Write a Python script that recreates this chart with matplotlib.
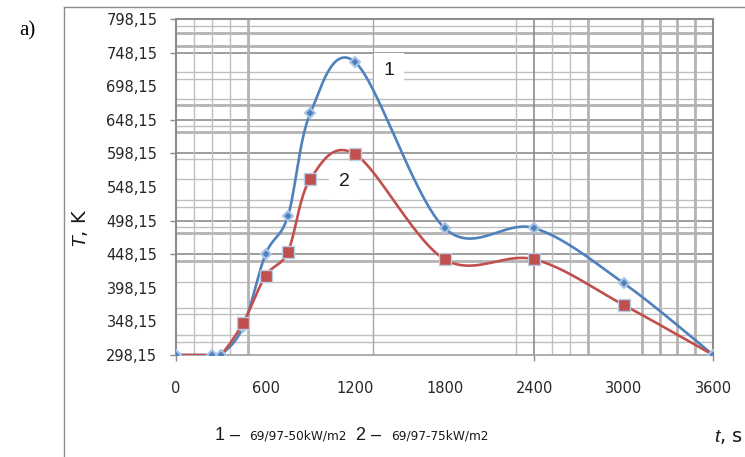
import matplotlib
matplotlib.use("Agg")
import matplotlib.pyplot as plt
from matplotlib.lines import Line2D
from matplotlib.ticker import FixedLocator
import numpy as np

plt.rcParams['mathtext.fontset'] = 'custom'
plt.rcParams['mathtext.rm'] = 'Liberation Sans'
plt.rcParams['mathtext.it'] = 'Liberation Sans:italic'

# ── Data ──────────────────────────────────────────────────────────────────────
t_sec  = [0, 240, 300, 450, 600, 750, 900, 1200, 1800, 2400, 3000, 3600]
temp_1 = [298.15, 298.15, 298.15, 340, 448.15, 505, 658, 734, 487, 487, 405, 298.15]
temp_2 = [298.15, 298.15, 298.15, 346, 416, 452, 560, 597, 440.5, 440.5, 372.5, 298.15]

y_ticks = [298.15 + 50 * i for i in range(11)]
y_marked = [298.15, 448.15, 498.15, 598.15, 648.15, 748.15, 798.15]
x_ticks = [0, 600, 1200, 1800, 2400, 3000, 3600]
x_marked = [0, 2400, 3600]

BLUE = '#4f81bd'
RED  = '#c0504d'


def excel_smooth(x, y, n=40):
    """Bezier smoothing the way spreadsheet 'smoothed line' charts do it."""
    x = np.asarray(x, float)
    y = np.asarray(y, float)
    px = np.concatenate([[x[0]], x, [x[-1]]])
    py = np.concatenate([[y[0]], y, [y[-1]]])
    xs, ys = [], []
    s = np.linspace(0, 1, n)
    for i in range(1, len(px) - 2):
        x0, x1, x2, x3 = px[i - 1], px[i], px[i + 1], px[i + 2]
        y0, y1, y2, y3 = py[i - 1], py[i], py[i + 1], py[i + 2]
        cx1, cy1 = x1 + (x2 - x0) / 6, y1 + (y2 - y0) / 6
        cx2, cy2 = x2 - (x3 - x1) / 6, y2 - (y3 - y1) / 6
        b0, b1, b2, b3 = (1 - s) ** 3, 3 * (1 - s) ** 2 * s, 3 * (1 - s) * s ** 2, s ** 3
        xs.append(b0 * x1 + b1 * cx1 + b2 * cx2 + b3 * x2)
        ys.append(b0 * y1 + b1 * cy1 + b2 * cy2 + b3 * y2)
    return np.concatenate(xs), np.concatenate(ys)


# ── Figure ────────────────────────────────────────────────────────────────────
fig = plt.figure(figsize=(7.45, 4.57), dpi=100)
W, H = 745, 457
ax = fig.add_axes([176 / W, 1 - 355 / H, (713.3 - 176) / W, (355 - 19) / H])
ax.set_xlim(0, 3600)
ax.set_ylim(298.15, 798.15)

# irregular grid
DARK  = dict(color='#8c8c8c', lw=1.2)
THIN  = dict(color='#bfbfbf', lw=1.0)
THICK = dict(color='#b3b3b3', lw=2.0)
MID   = dict(color='#a6a6a6', lw=1.0)

h_grid = [(788.2, THIN), (777.8, THICK), (758.4, THICK), (748.15, DARK),
          (719.2, THIN), (709.3, THIN), (679.6, THIN), (669.6, THICK),
          (648.15, DARK), (639.4, THIN), (629.9, THICK), (598.15, DARK),
          (590.2, THIN), (559.6, THIN), (528.8, THIN), (519.0, THIN),
          (498.15, DARK), (489.0, THIN), (479.5, THICK), (448.15, DARK),
          (438.5, THICK), (407.2, THIN), (367.6, THIN), (358.7, THIN),
          (327.9, THIN), (317.9, THIN)]
v_grid = [(120, THIN), (240, THIN), (360, THIN), (480, THICK), (1320, MID),
          (2280, THIN), (2400, DARK), (2520, THIN), (2640, THIN),
          (2760, THICK), (3120, THICK), (3240, THICK), (3360, THICK),
          (3480, THICK)]
for v, st in h_grid:
    ax.axhline(v, zorder=1, **st)
for v, st in v_grid:
    ax.axvline(v, zorder=1, **st)

for sp in ax.spines.values():
    sp.set_color('#8c8c8c')
    sp.set_linewidth(1.5)
ax.spines['bottom'].set_color('#a0a0a0')
ax.spines['bottom'].set_linewidth(1.2)

# curves
sx1, sy1 = excel_smooth(t_sec, temp_1)
sx2, sy2 = excel_smooth(t_sec, temp_2)
ax.plot(sx1, sy1, color=BLUE, lw=1.9, zorder=3, solid_capstyle='round')
ax.plot(sx2, sy2, color=RED, lw=1.9, zorder=4, solid_capstyle='round')

blue_mk = dict(ls='none', marker='D', ms=5.5, mfc=BLUE, mec='#a9c4e6', mew=1.5)
ax.plot(t_sec, temp_1, markevery=[3], zorder=4.5, **blue_mk)
ax.plot(t_sec, temp_2, ls='none', marker='s', ms=8, mfc=RED, mec='#b9cde5',
        mew=1.0, markevery=list(range(3, 11)), zorder=5)
ax.plot(t_sec, temp_1, markevery=[i for i in range(len(t_sec)) if i != 3],
        zorder=6, **blue_mk)

# curve numbers
ax.text(1427, 721, '1', fontsize=14, family='Liberation Sans', color='#1a1a1a',
        ha='center', va='center', zorder=2.5,
        bbox=dict(boxstyle='square,pad=0.5', fc='white', ec='none'))
ax.text(1126, 556, '2', fontsize=14, family='Liberation Sans', color='#1a1a1a',
        ha='center', va='center', zorder=2.5,
        bbox=dict(boxstyle='square,pad=0.5', fc='white', ec='none'))

# ticks
ax.set_yticks(y_ticks)
ax.set_yticklabels([f'{v:.2f}'.replace('.', ',') for v in y_ticks])
ax.set_xticks(x_ticks)
ax.set_xticklabels([str(v) for v in x_ticks])
ax.yaxis.set_minor_locator(FixedLocator(y_marked))
ax.xaxis.set_minor_locator(FixedLocator(x_marked))
ax.xaxis.remove_overlapping_locs = False
ax.yaxis.remove_overlapping_locs = False
ax.tick_params(which='major', length=0, labelsize=10.5, labelcolor='#262626')
ax.tick_params(axis='y', which='major', pad=13.5)
ax.tick_params(axis='x', which='major', pad=19)
ax.tick_params(which='minor', length=4.5, width=1.0, color='#8c8c8c', direction='out')

# axis titles and captions
fig.text(80 / W, 1 - 228 / H, r'$T$, K', rotation=90, fontsize=14,
         ha='center', va='center', color='#1a1a1a')
fig.text(27 / W, 1 - 31 / H, 'a)', fontsize=15, family='Liberation Serif',
         ha='center', va='center', color='black')
fig.text(729 / W, 1 - 436 / H, r'$t$, s', fontsize=14,
         ha='center', va='center', color='#1a1a1a')

cap_y = 1 - 436 / H
fig.text(215 / W, cap_y, '1 –', fontsize=13, family='Liberation Sans',
         ha='left', va='center', color='#1a1a1a')
fig.text(249 / W, cap_y, '69/97-50kW/m2', fontsize=8.7,
         ha='left', va='center', color='#1a1a1a')
fig.text(356 / W, cap_y, '2 –', fontsize=13, family='Liberation Sans',
         ha='left', va='center', color='#1a1a1a')
fig.text(391 / W, cap_y, '69/97-75kW/m2', fontsize=8.7,
         ha='left', va='center', color='#1a1a1a')

# outer frame
fig.add_artist(Line2D([64 / W, 64 / W], [1 - 6.5 / H, 0], color='#8c8c8c', lw=1.0))
fig.add_artist(Line2D([64 / W, 1], [1 - 6.5 / H, 1 - 6.5 / H], color='#8c8c8c', lw=1.0))

fig.savefig('out.png', dpi=100)
